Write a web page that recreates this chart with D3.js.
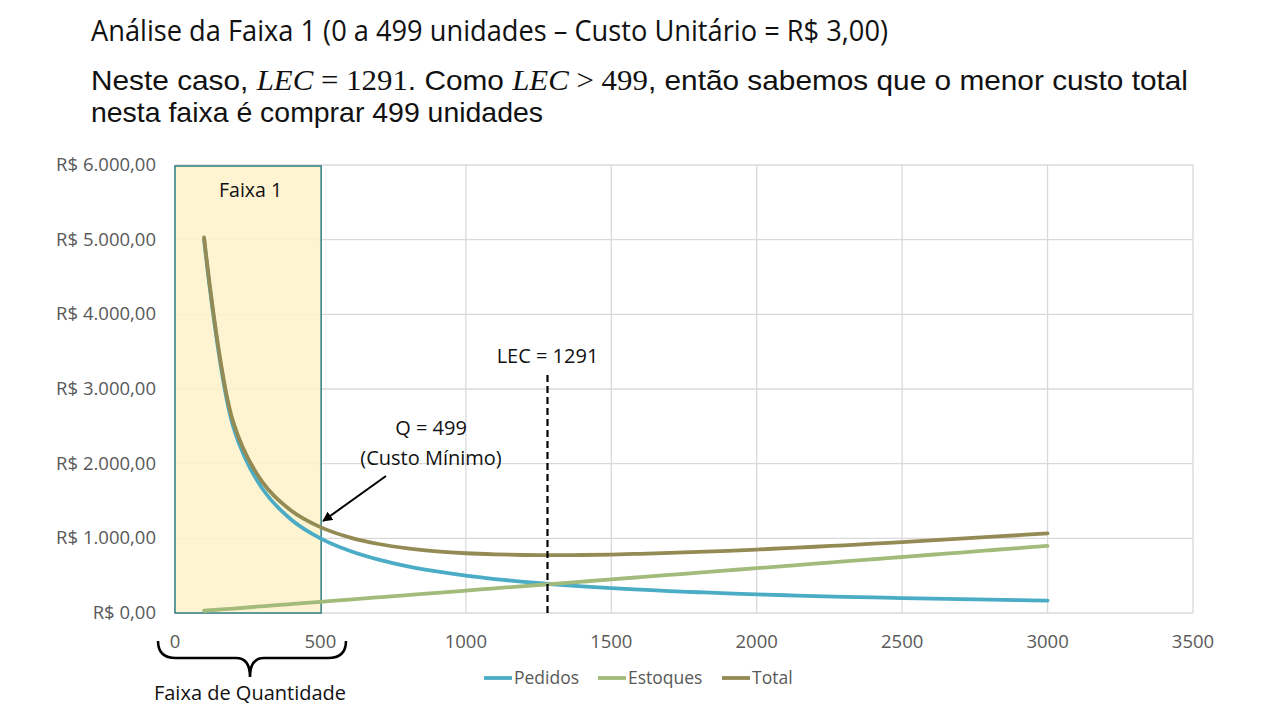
<!DOCTYPE html>
<html><head><meta charset="utf-8">
<script src="https://cdn.jsdelivr.net/npm/d3@7"></script>
<style>body{margin:0;background:#fff}svg{display:block}</style>
</head><body>
<svg id="c" width="1280" height="720"></svg>
<script>
const quantidades = [100,200,300,400,500,600,700,800,900,1000,1100,1200,1300,1400,1500,1600,1700,1800,1900,2000,2100,2200,2300,2400,2500,2600,2700,2800,2900,3000];
const pedidos = [5000,2500,1667,1250,1000,833,714,625,556,500,455,417,385,357,333,313,294,278,263,250,238,227,217,208,200,192,185,179,172,167];
const estoques = [30,60,90,120,150,180,210,240,270,300,330,360,390,420,450,480,510,540,570,600,630,660,690,720,750,780,810,840,870,900];
const total = [5030,2560,1757,1370,1150,1013,924,865,826,800,785,777,775,777,783,793,804,818,833,850,868,887,907,928,950,972,995,1019,1042,1067];
const seriesNames = ["Pedidos","Estoques","Total"];
const xTicks = [0,500,1000,1500,2000,2500,3000,3500];
const yTicks = [0,1000,2000,3000,4000,5000,6000];
const lec = 1291;
const qMin = 499;
const faixa = [0,499];

const colors = {Pedidos:"#4BACC6", Estoques:"#A3BB7A", Total:"#948A54"};
const svg = d3.select("#c");
const x = d3.scaleLinear().domain([0,3500]).range([175,1193]);
const y = d3.scaleLinear().domain([0,6000]).range([613,165]);

function fit(sel, w){ sel.attr("textLength", w).attr("lengthAdjust","spacingAndGlyphs"); }

const tf = "'Open Sans', 'Noto Sans', sans-serif";
const hf = "'Liberation Sans', Arial, sans-serif";
const mf = "'Liberation Serif', serif";

// Title
let t1 = svg.append("text").attr("x",91).attr("y",41).attr("font-family",tf).attr("font-size",29).attr("fill","#111")
  .text("Análise da Faixa 1 (0 a 499 unidades – Custo Unitário = R$ 3,00)");
fit(t1,797);

// Line 2
const seg2 = [
  {t:"Neste caso, ", f:hf, s:"normal"},
  {t:"LEC", f:mf, s:"italic"},
  {t:" = 1291", f:mf, s:"normal"},
  {t:". Como ", f:hf, s:"normal"},
  {t:"LEC", f:mf, s:"italic"},
  {t:" > 499", f:mf, s:"normal"},
  {t:", então sabemos que o menor custo total", f:hf, s:"normal"}
];
const t2 = svg.append("text").attr("x",91).attr("y",90).attr("font-size",28).attr("fill","#111")
  .attr("font-family",hf).attr("xml:space","preserve").style("white-space","pre");
seg2.forEach(sg => t2.append("tspan").attr("font-family",sg.f).attr("font-style",sg.s)
  .attr("font-size", sg.f===mf ? 29 : 28).text(sg.t));
fit(t2,1097);

let t3 = svg.append("text").attr("x",91).attr("y",122).attr("font-family",hf).attr("font-size",28).attr("fill","#111")
  .text("nesta faixa é comprar 499 unidades");
fit(t3,452);

// gridlines
const g = svg.append("g");
g.selectAll(".hg").data(yTicks).join("line").attr("x1",x(0)).attr("x2",x(3500))
  .attr("y1",d=>y(d)).attr("y2",d=>y(d)).attr("stroke","#D9D9D9").attr("stroke-width",1.3);
g.selectAll(".vg").data(xTicks).join("line").attr("y1",y(0)).attr("y2",y(6000))
  .attr("x1",d=>x(d)).attr("x2",d=>x(d)).attr("stroke","#D9D9D9").attr("stroke-width",1.3);

// Faixa rect
svg.append("rect").attr("x",x(faixa[0])).attr("y",y(6000)+1).attr("width",x(faixa[1])-x(faixa[0])+1).attr("height",y(0)-y(6000)-1)
  .attr("fill","#FFF2CC").attr("fill-opacity",0.88).attr("stroke","#2E7F86").attr("stroke-width",1.5);
svg.append("text").attr("x",(x(0)+x(499))/2+3).attr("y",197).attr("text-anchor","middle")
  .attr("font-family",tf).attr("font-size",19.5).attr("fill","#111").text("Faixa 1");

// axis labels
const af = "'Open Sans', sans-serif";
svg.append("g").selectAll("text").data(yTicks).join("text").attr("x",156).attr("y",d=>y(d)+6)
  .attr("text-anchor","end").attr("font-family",af).attr("font-size",18.5).attr("fill","#595959")
  .text(d=>"R$ "+d3.format(",.2f")(d).replace(/,/g,"#").replace(".",",").replace(/#/g,"."));
svg.append("g").selectAll("text").data(xTicks).join("text").attr("x",d=>x(d)).attr("y",648)
  .attr("text-anchor","middle").attr("font-family",af).attr("font-size",18.5).attr("fill","#595959").text(d=>d);

// lines
const data = {Pedidos:pedidos, Estoques:estoques, Total:total};
const line = d3.line().x((d,i)=>x(quantidades[i])).y(d=>y(d)).curve(d3.curveCatmullRom.alpha(0.5));
seriesNames.forEach(n=>{
  svg.append("path").attr("d",line(data[n])).attr("fill","none").attr("stroke",colors[n])
    .attr("stroke-width",3.8).attr("stroke-linecap","round").attr("stroke-linejoin","round");
});

// LEC dashed line
svg.append("line").attr("x1",x(lec)-3).attr("x2",x(lec)-3).attr("y1",375).attr("y2",y(0))
  .attr("stroke","#000").attr("stroke-width",2.2).attr("stroke-dasharray","7,4");
svg.append("text").attr("x",x(lec)-3).attr("y",363).attr("text-anchor","middle").attr("font-family",tf)
  .attr("font-size",20).attr("fill","#111").text("LEC = "+lec);

// Q=499 annotation
svg.append("defs").append("marker").attr("id","ah").attr("viewBox","0 0 10 10").attr("refX",9).attr("refY",5)
  .attr("markerWidth",5).attr("markerHeight",5).attr("orient","auto")
  .append("path").attr("d","M0,0 L10,5 L0,10 z").attr("fill","#000");
svg.append("line").attr("x1",386).attr("y1",476).attr("x2",x(qMin)+3).attr("y2",521)
  .attr("stroke","#000").attr("stroke-width",2).attr("marker-end","url(#ah)");
svg.append("text").attr("x",431).attr("y",435).attr("text-anchor","middle").attr("font-family",tf)
  .attr("font-size",20).attr("fill","#111").text("Q = "+qMin);
svg.append("text").attr("x",431).attr("y",465).attr("text-anchor","middle").attr("font-family",tf)
  .attr("font-size",20).attr("fill","#111").text("(Custo Mínimo)");

// brace
svg.append("path").attr("d","M158,641 Q158,658 176,658 L236,658 Q250,658 250,677 Q250,658 264,658 L328,658 Q346,658 346,641")
  .attr("fill","none").attr("stroke","#000").attr("stroke-width",2.6);
svg.append("text").attr("x",250).attr("y",700).attr("text-anchor","middle").attr("font-family",tf)
  .attr("font-size",20).attr("fill","#111").text("Faixa de Quantidade");

// legend
const lx = [484,598,722];
seriesNames.forEach((n,i)=>{
  svg.append("line").attr("x1",lx[i]).attr("x2",lx[i]+28).attr("y1",678).attr("y2",678)
    .attr("stroke",colors[n]).attr("stroke-width",3.8);
  svg.append("text").attr("x",lx[i]+30).attr("y",684).attr("font-family",af).attr("font-size",17.5)
    .attr("fill","#595959").text(n);
});
</script>
</body></html>
